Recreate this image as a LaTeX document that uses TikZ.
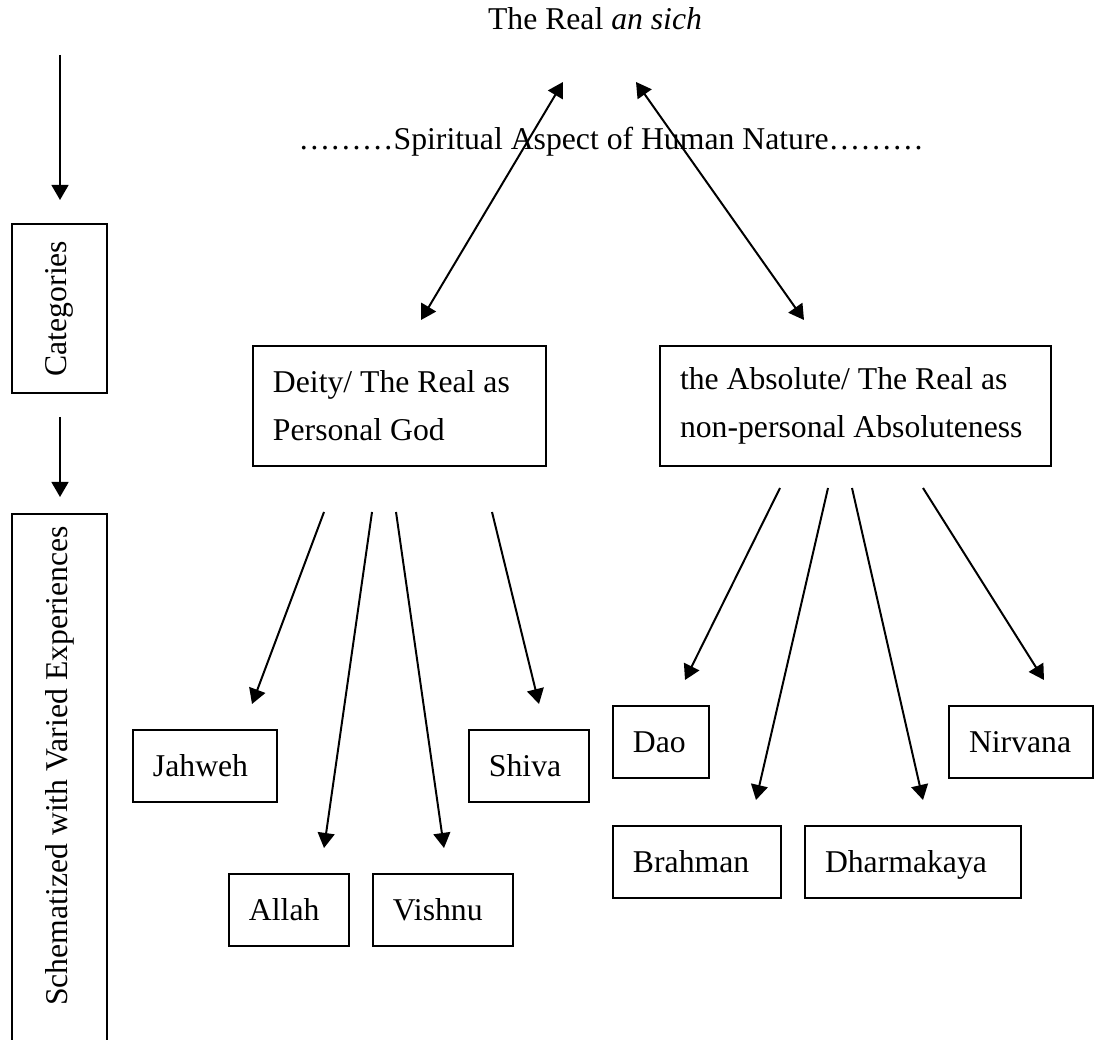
\documentclass[tikz,border=0pt]{standalone}
\usepackage{fontspec}
\setmainfont{Liberation Serif}
\usetikzlibrary{arrows.meta}
\newcommand{\pxu}{0.3785pt}

\begin{document}
\begin{tikzpicture}[x=0.3785pt,y=-0.3785pt,font=\fontsize{12}{14.4}\selectfont,frame/.style={draw,line width=0.75pt,anchor=north west,align=flush left,inner xsep=20*\pxu,inner ysep=0pt},item/.style={frame,minimum height=72*\pxu,text depth=0pt},bigitem/.style={frame,minimum height=120*\pxu,font=\fontsize{12}{18.2}\selectfont},side/.style={draw,line width=0.75pt,rotate=90,minimum height=95*\pxu,inner sep=0pt},arrow/.style={-{Triangle[length=5.7pt,width=6.4pt]},line width=0.75pt},twoway/.style={{Triangle[length=5.7pt,width=6.4pt]}-{Triangle[length=5.7pt,width=6.4pt]},line width=0.75pt}]
\useasboundingbox (0,0) rectangle (1099,1040);
\node[anchor=base] (real) at (595,30) {The Real \textit{an sich}};
\node[anchor=base west,inner xsep=0pt] (aspect) at (298,150) {………Spiritual Aspect of Human Nature………};
% left column
\node[side,minimum width=169*\pxu] (categories) at (59.5,308.5) {Categories};
\node[side,anchor=east,align=flush right,inner xsep=12*\pxu,text width=516*\pxu] (schematized) at (59.5,513) {Schematized with Varied Experiences};
% the two categories
\node[bigitem,text width=253*\pxu] (deity) at (252,345) {Deity/ The Real as\\Personal God};
\node[bigitem,text width=351*\pxu] (absolute) at (659,345) {the Absolute/ The Real as\\non-personal Absoluteness};
% the experiences
\node[item,text width=104*\pxu] (jahweh) at (132,729) {Jahweh};
\node[item,text width=80*\pxu] (allah) at (228,873) {Allah};
\node[item,text width=100*\pxu] (vishnu) at (372,873) {Vishnu};
\node[item,text width=80*\pxu] (shiva) at (468,729) {Shiva};
\node[item,text width=56*\pxu] (dao) at (612,705) {Dao};
\node[item,text width=128*\pxu] (brahman) at (612,825) {Brahman};
\node[item,text width=176*\pxu] (dharmakaya) at (804,825) {Dharmakaya};
\node[item,text width=104*\pxu] (nirvana) at (948,705) {Nirvana};
% free ends of the arrows
\foreach \name/\x/\y in {flowa/60/55,flowb/60/200,flowc/60/417,flowd/60/497,
  realL/563/82,deityup/421/320,realR/636/82,absoluteup/804/320,
  deity1/324/512,deity2/372/512,deity3/396/512,deity4/492/512,
  jahwehtip/252/704,allahtip/324/848,vishnutip/444/848,shivatip/539/704,
  absolute1/780/488,absolute2/828/488,absolute3/852/488,absolute4/923/488,
  daotip/685/680,brahmantip/756/800,dharmakayatip/923/800,nirvanatip/1044/680}
  \coordinate (\name) at (\x,\y);
\draw[arrow] (flowa) -- (flowb);
\draw[arrow] (flowc) -- (flowd);
\draw[twoway] (realL) -- (deityup);
\draw[twoway] (realR) -- (absoluteup);
\draw[arrow] (deity1) -- (jahwehtip);
\draw[arrow] (deity2) -- (allahtip);
\draw[arrow] (deity3) -- (vishnutip);
\draw[arrow] (deity4) -- (shivatip);
\draw[arrow] (absolute1) -- (daotip);
\draw[arrow] (absolute2) -- (brahmantip);
\draw[arrow] (absolute3) -- (dharmakayatip);
\draw[arrow] (absolute4) -- (nirvanatip);
\end{tikzpicture}
\end{document}
